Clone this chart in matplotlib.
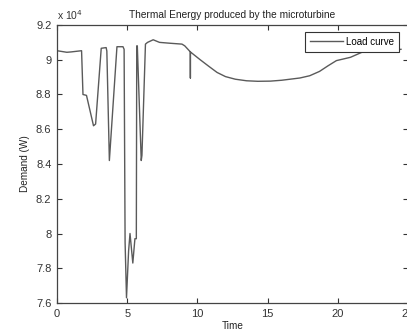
import matplotlib
matplotlib.use("Agg")
import matplotlib.pyplot as plt
import matplotlib.ticker as mticker
import numpy as np

# load curve (time, demand in W)
time = [0, 0.7, 1.0, 1.75, 1.85, 2.1, 2.6, 2.75, 3.15, 3.5, 3.55, 3.73, 4.27, 4.7,
        4.78, 4.85, 4.95, 5.1, 5.2, 5.4, 5.55, 5.65, 5.68, 5.72, 6.0, 6.05, 6.3,
        6.45, 6.85, 7.3, 8.05, 8.9, 9.1, 9.5, 9.5, 9.5, 10.2, 10.8, 11.4, 12.0,
        12.7, 13.5, 14.3, 15.2, 16.0, 16.6, 17.3, 18.0, 18.7, 19.3, 19.9, 20.9,
        21.8, 22.5, 23.3, 24.5]
demand = [90520, 90430, 90450, 90520, 88000, 87950, 86200, 86300, 90660, 90700,
          90500, 84200, 90750, 90750, 90600, 79500, 76300, 79000, 80000, 78300,
          79700, 79700, 90800, 90800, 84200, 84500, 90900, 91000, 91150, 91000,
          90950, 90900, 90800, 90450, 88950, 90450, 90000, 89630, 89270, 89030,
          88880, 88790, 88760, 88770, 88820, 88880, 88950, 89080, 89330, 89650,
          89950, 90140, 90460, 90520, 90560, 90600]

x_ticks = [0, 5, 10, 15, 20, 25]
y_ticks = [7.6, 7.8, 8.0, 8.2, 8.4, 8.6, 8.8, 9.0, 9.2]

plt.rcParams["font.family"] = ["Liberation Sans", "DejaVu Sans"]

fig = plt.figure(figsize=(4.07, 3.32), dpi=100)
ax = fig.add_axes([57 / 407, 29 / 332, 351 / 407, 278 / 332])

ax.plot(time, np.array(demand) / 1e4, color="#5a5a5a", lw=1.0, label="Load curve")

ax.set_xlim(0, 25)
ax.set_ylim(7.6, 9.2)
ax.set_xticks(x_ticks)
ax.set_yticks(y_ticks)
ax.yaxis.set_major_formatter(mticker.FuncFormatter(lambda v, _: f"{v:g}"))
ax.tick_params(direction="in", top=True, right=True, length=3.5, width=0.8,
               labelsize=8, colors="#333333", pad=4)
for s in ax.spines.values():
    s.set_color("#444444")
    s.set_linewidth(0.9)

ax.set_title("Thermal Energy produced by the microturbine", fontsize=7.3, pad=5,
             color="#222222")
ax.set_xlabel("Time", fontsize=7.2, labelpad=2, color="#222222")
ax.set_ylabel("Demand (W)", fontsize=7.2, labelpad=4, color="#222222")
ax.text(0.0, 1.012, r"x 10$^4$", transform=ax.transAxes, fontsize=7.5,
        color="#333333", va="bottom", ha="left")

leg = ax.legend(loc="upper right", bbox_to_anchor=(0.974, 0.975), borderaxespad=0,
                fontsize=7, handlelength=3.4, handletextpad=0.3, borderpad=0.5,
                fancybox=False, framealpha=1)
leg.get_frame().set_edgecolor("#333333")
leg.get_frame().set_linewidth(0.8)

fig.savefig("out.png", dpi=100)
